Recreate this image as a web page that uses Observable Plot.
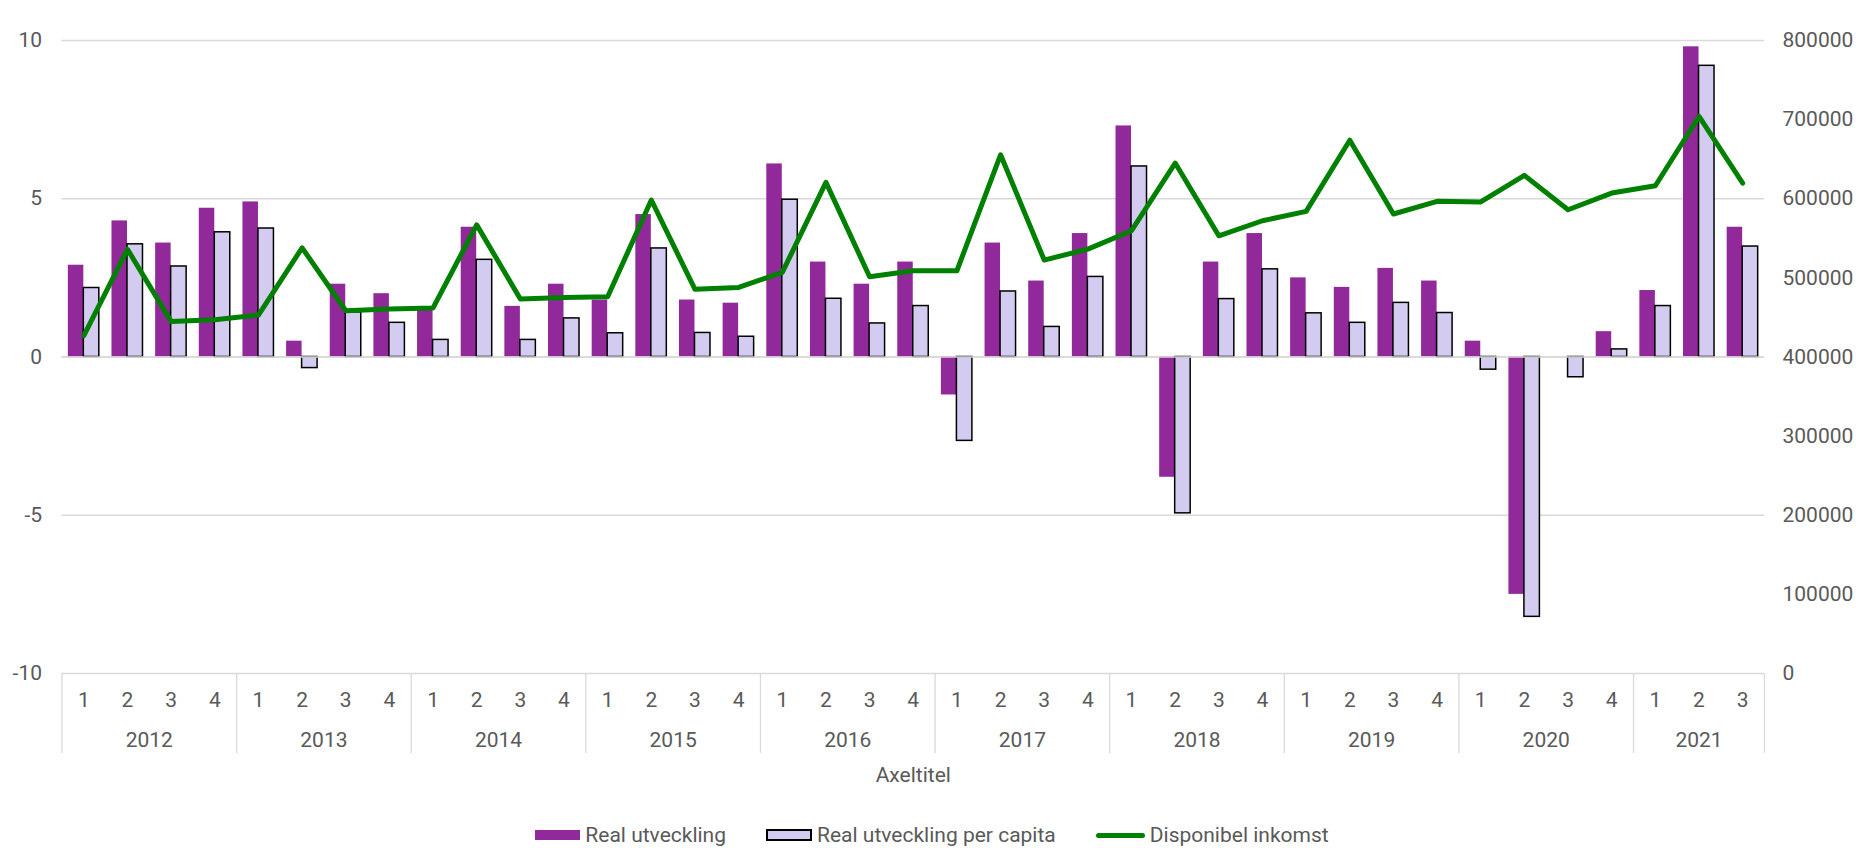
<!DOCTYPE html>
<html><head><meta charset="utf-8">
<script src="https://cdn.jsdelivr.net/npm/d3@7"></script>
<script src="https://cdn.jsdelivr.net/npm/@observablehq/plot@0.6"></script>
<style>
html,body{margin:0;padding:0;background:#fff;overflow:hidden;}
body{font-family:Roboto,sans-serif;color:#595959;}
#legend{display:flex;justify-content:center;align-items:center;gap:40px;height:24px;margin-top:23px;font-size:21px;line-height:24px;padding-left:8px;}
.item{display:flex;align-items:center;gap:5px;}
.sw{display:inline-block;box-sizing:border-box;}
</style></head><body>
<div id="chart"></div>
<div id="legend"></div>
<script>
// ---- data ----
const years = [2012, 2013, 2014, 2015, 2016, 2017, 2018, 2019, 2020, 2021];
const quartersPerYear = [4, 4, 4, 4, 4, 4, 4, 4, 4, 3];
const quarterLabels = ["1", "2", "3", "4"];

const realGrowth = [
  2.9, 4.3, 3.6, 4.7,
  4.9, 0.5, 2.3, 2.0,
  1.5, 4.1, 1.6, 2.3,
  1.8, 4.5, 1.8, 1.7,
  6.1, 3.0, 2.3, 3.0,
  -1.2, 3.6, 2.4, 3.9,
  7.3, -3.8, 3.0, 3.9,
  2.5, 2.2, 2.8, 2.4,
  0.5, -7.5, 0.0, 0.8,
  2.1, 9.8, 4.1
];
const perCapita = [
  2.18, 3.56, 2.86, 3.94,
  4.06, -0.35, 1.41, 1.08,
  0.54, 3.07, 0.54, 1.22,
  0.75, 3.43, 0.76, 0.64,
  4.97, 1.84, 1.06, 1.61,
  -2.65, 2.07, 0.95, 2.53,
  6.02, -4.94, 1.83, 2.77,
  1.38, 1.08, 1.71, 1.39,
  -0.40, -8.21, -0.64, 0.24,
  1.61, 9.20, 3.49
];
const income = [
  427000, 536000, 445000, 447000,
  453000, 538000, 458500, 460700,
  462000, 567000, 473300, 475300,
  476200, 598400, 485500, 487900,
  506900, 620700, 501500, 509000,
  509000, 655600, 522500, 536400,
  559600, 645100, 553200, 572200,
  584000, 674000, 580700, 596700,
  596000, 629500, 586100, 607200,
  616400, 704000, 619800
];
const leftTicks = [-10, -5, 0, 5, 10];
const rightTicks = [0, 100000, 200000, 300000, 400000, 500000, 600000, 700000, 800000];
const seriesNames = ["Real utveckling", "Real utveckling per capita", "Disponibel inkomst"];
const xTitle = "Axeltitel";

// ---- derived tables ----
const periods = [];
const yearRows = [];
const boundaries = [-0.5];
years.forEach((y, yi) => {
  const start = periods.length;
  for (let q = 0; q < quartersPerYear[yi]; q++) periods.push({year: y, q: quarterLabels[q]});
  yearRows.push({year: String(y), mid: start + (quartersPerYear[yi] - 1) / 2});
  boundaries.push(periods.length - 0.5);
});
const rows = periods.map((p, i) => ({i, q: p.q, real: realGrowth[i], pc: perCapita[i], inc: income[i]}));

// right axis (0..800000) shares the pixel range of the left axis (-10..10)
const toLeft = v => v / 40000 - 10;
const fromLeft = d => String(Math.round((d + 10) * 40000));

const purple = "#91299A", lavender = "#D3CCF0", green = "#008000", grid = "#D9D9D9", ink = "#595959";

const chart = Plot.plot({
  width: 1856,
  height: 800,
  marginTop: 40,
  marginBottom: 127,
  marginLeft: 61.5,
  marginRight: 92,
  style: {fontFamily: "Roboto, sans-serif", fontSize: "21px", color: ink, background: "white"},
  x: {type: "linear", domain: [-0.5, periods.length - 0.5], axis: null},
  y: {domain: [-10, 10], axis: null},
  marks: [
    Plot.ruleY(leftTicks, {stroke: grid, strokeWidth: 1.3}),
    Plot.rectY(rows, {x1: d => d.i - 0.355, x2: d => d.i, y: "real", fill: purple}),
    Plot.rectY(rows, {x1: d => d.i, x2: d => d.i + 0.355, y: "pc", fill: lavender, stroke: "black", strokeWidth: 1.5}),
    Plot.ruleY([0], {stroke: grid, strokeWidth: 1.3}),
    Plot.line(rows, {x: "i", y: d => toLeft(d.inc), stroke: green, strokeWidth: 5, strokeLinejoin: "round"}),
    Plot.axisY(leftTicks, {anchor: "left", tickSize: 0, tickPadding: 20, tickFormat: d => String(d), label: null, fill: ink}),
    Plot.axisY(rightTicks.map(toLeft), {anchor: "right", tickSize: 0, tickPadding: 18, tickFormat: fromLeft, label: null, fill: ink}),
    // category separators
    Plot.ruleX(boundaries, {stroke: grid, strokeWidth: 1.3, insetTop: 633, insetBottom: -80}),
    // quarter labels
    Plot.text(rows, {x: "i", text: "q", frameAnchor: "bottom", dy: 27, lineAnchor: "middle", fill: ink}),
    // year labels
    Plot.text(yearRows, {x: "mid", text: "year", frameAnchor: "bottom", dy: 67, lineAnchor: "middle", fill: ink}),
    Plot.text([xTitle], {x: [(periods.length - 1) / 2], frameAnchor: "bottom", dy: 102, lineAnchor: "middle", fill: ink})
  ]
});
document.getElementById("chart").appendChild(chart);

// ---- legend ----
const legend = document.getElementById("legend");
const swatches = [
  `<span class="sw" style="width:45px;height:10px;background:${purple}"></span>`,
  `<span class="sw" style="width:46px;height:12px;background:${lavender};border:2px solid black"></span>`,
  `<span class="sw" style="width:49px;height:5px;background:${green};border-radius:3px"></span>`
];
seriesNames.forEach((name, k) => {
  const item = document.createElement("span");
  item.className = "item";
  item.innerHTML = swatches[k] + `<span>${name}</span>`;
  legend.appendChild(item);
});
</script>
</body></html>
